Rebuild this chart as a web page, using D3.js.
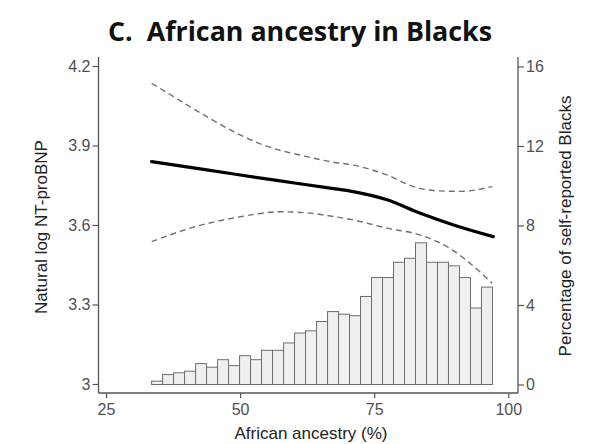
<!DOCTYPE html>
<html>
<head>
<meta charset="utf-8">
<script src="https://cdn.jsdelivr.net/npm/d3@7/dist/d3.min.js"></script>
<style>
  body { margin: 0; background: #fff; }
  svg { display: block; }
</style>
</head>
<body>
<div class="canvas"></div>
<script>
const W = 613, H = 444;

// histogram: bin edges (African ancestry %) and percentage of self-reported Blacks
const binEdges = [33.50, 35.55, 37.60, 39.65, 41.70, 43.75, 45.80, 47.85, 49.90, 51.95,
  54.00, 56.05, 58.10, 60.15, 62.20, 64.25, 66.30, 68.35, 70.40, 72.45, 74.50, 76.55,
  78.60, 80.65, 82.70, 84.75, 86.80, 88.85, 90.90, 92.95, 95.00, 97.05];
const binPct = [0.17, 0.5, 0.59, 0.67, 1.05, 0.87, 1.25, 0.95, 1.45, 1.25, 1.72, 1.72,
  2.09, 2.59, 2.7, 3.17, 3.67, 3.54, 3.46, 4.43, 5.38, 5.38, 6.15, 6.35, 7.13, 6.15,
  6.15, 5.97, 5.38, 3.85, 4.9];

// fitted curve and 95% band (natural log NT-proBNP)
const fitX = [33.5, 43.8, 56.2, 66.8, 71.1, 77.4, 83.6, 89.8, 97.2];
const fitY = [3.839, 3.808, 3.770, 3.739, 3.726, 3.695, 3.644, 3.600, 3.556];
const upX = [33.5, 37.6, 43.8, 50.0, 56.2, 61.2, 66.8, 71.1, 77.4, 82.3, 86.7, 91.0, 97.0];
const upY = [4.135, 4.084, 4.009, 3.940, 3.889, 3.864, 3.839, 3.826, 3.789, 3.745, 3.729, 3.727, 3.745];
const loX = [33.5, 40.7, 50.0, 57.5, 62.4, 66.8, 71.1, 77.4, 83.6, 88.6, 92.9, 97.0];
const loY = [3.537, 3.588, 3.631, 3.650, 3.646, 3.634, 3.619, 3.588, 3.562, 3.518, 3.455, 3.380];

const xTicks = [25, 50, 75, 100];
const yLTicks = [3, 3.3, 3.6, 3.9, 4.2];
const yRTicks = [0, 4, 8, 12, 16];

const xScale = d3.scaleLinear().domain([25, 100]).range([106, 508.3]);
const yL = d3.scaleLinear().domain([3, 4.2]).range([384, 66]);
const yR = d3.scaleLinear().domain([0, 16]).range([384.5, 66.5]);

const svg = d3.select(".canvas").append("svg")
  .attr("width", W).attr("height", H)
  .style("background-color", "white");

// title
svg.append("text")
  .attr("x", 300).attr("y", 40.5)
  .attr("text-anchor", "middle")
  .attr("textLength", 384)
  .attr("lengthAdjust", "spacingAndGlyphs")
  .style("white-space", "pre")
  .style("font-family", "'Open Sans', Lato, sans-serif")
  .style("font-weight", "bold")
  .style("font-size", "26px")
  .attr("fill", "#111")
  .text("C.  African ancestry in Blacks");

// histogram bars
const bars = binPct.map((v, i) => ({ x0: binEdges[i], x1: binEdges[i + 1], v }));
svg.append("g").selectAll("rect")
  .data(bars).enter().append("rect")
  .attr("x", d => xScale(d.x0))
  .attr("y", d => yR(d.v))
  .attr("width", d => xScale(d.x1) - xScale(d.x0))
  .attr("height", d => yR(0) - yR(d.v))
  .attr("fill", "#efefef")
  .attr("stroke", "#6e6e6e")
  .attr("stroke-width", 1);

// lines
const mk = (xs, ys) => xs.map((x, i) => [x, ys[i]]);
const line = d3.line().x(d => xScale(d[0])).y(d => yL(d[1])).curve(d3.curveMonotoneX);

svg.append("path").datum(mk(upX, upY)).attr("d", line)
  .attr("fill", "none").attr("stroke", "#707070").attr("stroke-width", 1.4)
  .attr("stroke-dasharray", "6,4");
svg.append("path").datum(mk(loX, loY)).attr("d", line)
  .attr("fill", "none").attr("stroke", "#707070").attr("stroke-width", 1.4)
  .attr("stroke-dasharray", "6,4");
svg.append("path").datum(mk(fitX, fitY)).attr("d", line)
  .attr("fill", "none").attr("stroke", "#000").attr("stroke-width", 3.2)
  .attr("stroke-linecap", "round");

// axes
const axisColor = "#555";
function styleAxis(g) {
  g.select(".domain").remove();
  g.selectAll(".tick line").attr("stroke", axisColor).attr("stroke-width", 1.2);
  g.selectAll(".tick text")
    .style("font-family", "'Liberation Sans', Arial, sans-serif")
    .style("font-size", "16px")
    .attr("fill", "#505050");
}

svg.append("g")
  .attr("transform", "translate(0,393)")
  .call(d3.axisBottom(xScale).tickValues(xTicks).tickSize(5).tickPadding(6))
  .call(styleAxis);

svg.append("g")
  .attr("transform", "translate(98.5,0)")
  .call(d3.axisLeft(yL).tickValues(yLTicks).tickSize(6).tickPadding(2)
    .tickFormat(d => d3.format("")(d)))
  .call(styleAxis);

svg.append("g")
  .attr("transform", "translate(518,0)")
  .call(d3.axisRight(yR).tickValues(yRTicks).tickSize(6).tickPadding(2))
  .call(styleAxis);

// axis lines
const ax = svg.append("g").attr("stroke", axisColor).attr("stroke-width", 1.3);
ax.append("line").attr("x1", 98.5).attr("x2", 518).attr("y1", 393).attr("y2", 393);
ax.append("line").attr("x1", 98.5).attr("x2", 98.5).attr("y1", 57).attr("y2", 393);
ax.append("line").attr("x1", 518).attr("x2", 518).attr("y1", 57).attr("y2", 393);

// axis titles
const titleStyle = t => t
  .style("font-family", "'Liberation Sans', Arial, sans-serif")
  .style("font-size", "17px")
  .attr("fill", "#222")
  .attr("text-anchor", "middle");

svg.append("text").attr("x", 311).attr("y", 438.5).call(titleStyle).text("African ancestry (%)");
svg.append("text").attr("transform", "translate(47,227) rotate(-90)").call(titleStyle)
  .text("Natural log NT-proBNP");
svg.append("text").attr("transform", "translate(571,226) rotate(-90)").call(titleStyle)
  .text("Percentage of self-reported Blacks");
</script>
</body>
</html>
